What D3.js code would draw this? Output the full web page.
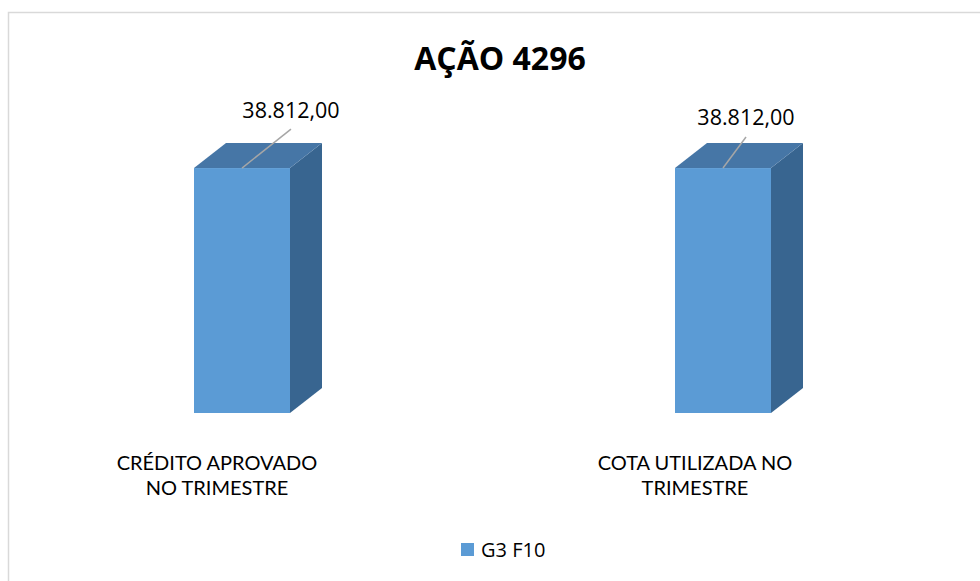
<!DOCTYPE html>
<html><head><meta charset="utf-8">
<script src="https://cdn.jsdelivr.net/npm/d3@7"></script>
<style>html,body{margin:0;padding:0;background:#fff;}svg{display:block;}</style>
</head><body>
<svg id="c" width="980" height="581"></svg>
<script>
const title = "AÇÃO 4296";
const categories = [["CRÉDITO APROVADO","NO TRIMESTRE"],["COTA UTILIZADA NO","TRIMESTRE"]];
const seriesName = "G3 F10";
const values = [38812, 38812];
const valueLabels = ["38.812,00","38.812,00"];

const W = 980, H = 581;
const svg = d3.select("#c");
const font = "'Open Sans', 'Liberation Sans', sans-serif";
const font2 = "Lato, 'Open Sans', sans-serif";

// chart frame
svg.append("path").attr("d","M8.5,581 V12.5 H980").attr("fill","none").attr("stroke","#d9d9d9").attr("stroke-width",1.5);

svg.append("text").attr("x",500).attr("y",70).attr("text-anchor","middle")
  .attr("font-family",font).attr("font-weight","bold").attr("font-size",32).attr("fill","#000").text(title);

const x = d3.scalePoint().domain(d3.range(categories.length)).range([217, 698]);
const y = d3.scaleLinear().domain([0, 45000]).range([413, 129]);

const barW = 96, dx = 32, dy = -25, barOff = -23;
const cFront = "#5b9bd5", cTop = "#4676a6", cSide = "#386590";
const g = svg.append("g");
values.forEach((v,i)=>{
  const x0 = x(i) + barOff, x1 = x0 + barW, yt = y(v), yb = y(0);
  g.append("path").attr("d",`M${x1},${yt} L${x1+dx},${yt+dy} L${x1+dx},${yb+dy} L${x1},${yb} Z`).attr("fill",cSide);
  g.append("path").attr("d",`M${x0},${yt} L${x0+dx},${yt+dy} L${x1+dx},${yt+dy} L${x1},${yt} Z`).attr("fill",cTop);
  g.append("rect").attr("x",x0).attr("y",yt).attr("width",barW).attr("height",yb-yt).attr("fill",cFront);
});

// data labels with leader lines
const lblOff = [[49,-50,-39],[23,-43,-31]]; // [text dx, baseline dy, line end dy]
values.forEach((v,i)=>{
  const bx = x(i) + barOff + barW/2, by = y(v);
  const [ldx, tdy, edy] = lblOff[i];
  svg.append("line").attr("x1",bx).attr("y1",by).attr("x2",bx+ldx).attr("y2",by+edy)
    .attr("stroke","#a6a6a6").attr("stroke-width",1.5);
  svg.append("text").attr("x",bx+ldx).attr("y",by+tdy).attr("text-anchor","middle")
    .attr("font-family",font).attr("font-size",21.5).attr("fill","#000").text(valueLabels[i]);
});

// category labels (one text per line)
categories.forEach((lines,i)=>{
  lines.forEach((l,j)=>svg.append("text").attr("text-anchor","middle").attr("font-family",font2)
    .attr("font-size",20).attr("fill","#000")
    .attr("x",x(i) - i*3).attr("y",470+j*25).text(l));
});

// legend
svg.append("rect").attr("x",461).attr("y",543).attr("width",13).attr("height",13).attr("fill",cFront);
svg.append("text").attr("x",481).attr("y",557).attr("font-family",font).attr("font-size",20).attr("fill","#000").text(seriesName);
</script>
</body></html>
